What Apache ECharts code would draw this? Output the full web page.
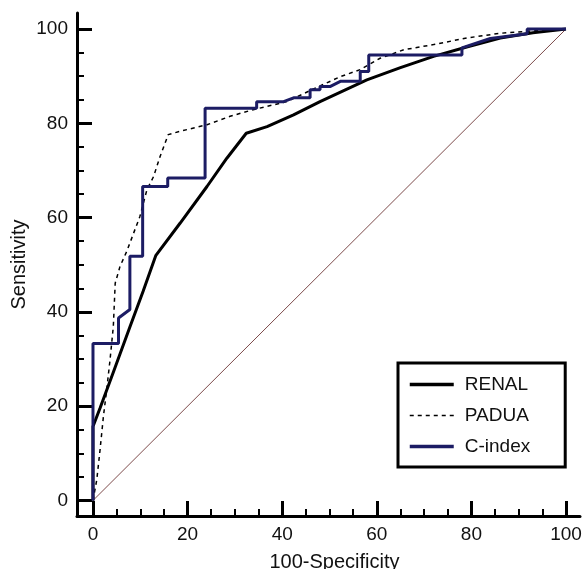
<!DOCTYPE html>
<html>
<head>
<meta charset="utf-8">
<script src="https://cdn.jsdelivr.net/npm/echarts@6/dist/echarts.min.js"></script>
<style>
html,body{margin:0;padding:0;background:#fff;}
#chart{width:584px;height:569px;}
</style>
</head>
<body>
<div id="chart"></div>
<script>
// ---- data ----
const seriesNames = ['RENAL', 'PADUA', 'C-index'];
const renal = [[0,0],[0,15.7],[1.5,19.6],[4.3,27.2],[7.8,36.8],[10.6,44.4],[13.3,52],[18.4,58.8],[24.1,66.6],[28.3,72.6],[32.4,77.9],[36.8,79.3],[42.4,81.8],[48,84.6],[57.9,89.2],[65,91.8],[72,94.2],[79,96.2],[86.1,98.1],[93,99.2],[100,100]];
const padua = [[0,0],[0.8,4.4],[1.5,10.8],[2.2,17.8],[2.9,23.5],[3.6,29.8],[4.3,36.9],[4.7,46.1],[5.7,49.6],[7.2,53],[9.9,60.2],[11.4,65.9],[12.8,68.7],[14.2,73],[15.9,77.6],[18.4,78.3],[24.1,79.7],[29,81.5],[33.9,82.9],[41,84.6],[46,87],[52.3,89.9],[56.5,91.4],[60.7,93.8],[65.7,95.6],[72,96.7],[79,98.1],[86.1,99.1],[93,99.6],[100,100]];
const cindex = [[0,0],[0,33.3],[5.4,33.3],[5.4,38.7],[7.8,40.5],[7.8,51.8],[10.5,51.8],[10.5,66.6],[15.8,66.6],[15.8,68.4],[23.7,68.4],[23.7,83.2],[34.6,83.2],[34.6,84.6],[40.3,84.6],[42.4,85.4],[45.9,85.4],[45.9,87.1],[48,87.1],[48,87.8],[50.1,87.8],[52.3,88.9],[56.5,88.9],[56.5,91],[58.3,91],[58.3,94.5],[78,94.5],[78,96],[84,98],[91.8,99],[91.8,100],[100,100]];
const reference = [[0,0],[100,100]];
const majorTicks = [0, 20, 40, 60, 80, 100];
const minorTicks = [5,10,15,25,30,35,45,50,55,65,70,75,85,90,95];

const FONT = 'Liberation Sans, Arial, sans-serif';
const NAVY = '#1c1c64';

function mainAxis(name, min, max, gap, extra) {
  return Object.assign({
    type: 'value', min: min, max: max,
    name: name, nameLocation: 'middle', nameGap: gap, nameMoveOverlap: false,
    nameTextStyle: {fontSize: 20, color: '#111', fontFamily: FONT},
    axisLine: {show: true, onZero: false, lineStyle: {color: '#000', width: 3}},
    axisTick: {show: true, inside: true, length: 15, lineStyle: {color: '#000', width: 3}, customValues: majorTicks},
    axisLabel: {show: true, fontSize: 19, color: '#111', fontFamily: FONT, margin: 9, customValues: majorTicks},
    splitLine: {show: false}
  }, extra || {});
}
function minorAxis(min, max, pos) {
  return {
    type: 'value', min: min, max: max, position: pos,
    axisLine: {show: false, onZero: false},
    axisTick: {show: true, inside: true, length: 7, lineStyle: {color: '#000', width: 2}, customValues: minorTicks},
    axisLabel: {show: false},
    splitLine: {show: false}
  };
}

const XMIN = -3.38, XMAX = 102.96, YMIN = -3.29, YMAX = 103.4;

const chart = echarts.init(document.getElementById('chart'), null, {renderer: 'canvas'});
chart.setOption({
  animation: false,
  backgroundColor: '#fff',
  grid: {left: 77, right: 4, top: 13, bottom: 53, containLabel: false, outerBoundsMode: 'none'},
  xAxis: [
    mainAxis('100-Specificity', XMIN, XMAX, 36, {position: 'bottom', nameTextStyle: {fontSize: 20, color: '#111', fontFamily: FONT, padding: [0, 0, 0, 12]}}),
    minorAxis(XMIN, XMAX, 'bottom')
  ],
  yAxis: [
    mainAxis('Sensitivity', YMIN, YMAX, 48, {position: 'left'}),
    minorAxis(YMIN, YMAX, 'left')
  ],
  legend: {
    data: [
      {name: seriesNames[0], lineStyle: {width: 3.5}},
      {name: seriesNames[1], lineStyle: {width: 1.5}},
      {name: seriesNames[2], lineStyle: {width: 3.5}}
    ],
    orient: 'vertical',
    left: 398, top: 363,
    padding: [12, 35, 11, 10],
    borderColor: '#000', borderWidth: 3,
    itemWidth: 44, itemHeight: 14, itemGap: 12,
    itemStyle: {opacity: 0},
    textStyle: {fontSize: 19, color: '#111', fontFamily: FONT, padding: [0, 0, 0, 6]}
  },
  series: [
    {name: 'ref', type: 'line', data: reference, symbol: 'none', silent: true,
     lineStyle: {color: '#7d4b4b', width: 1}, z: 1},
    {name: 'PADUA', type: 'line', data: padua, symbol: 'none',
     itemStyle: {color: '#000'},
     lineStyle: {color: '#000', width: 1.5, type: [4, 4]}, z: 2},
    {name: 'RENAL', type: 'line', data: renal, symbol: 'none',
     itemStyle: {color: '#000'},
     lineStyle: {color: '#000', width: 3}, z: 3},
    {name: 'C-index', type: 'line', data: cindex, symbol: 'none',
     itemStyle: {color: NAVY},
     lineStyle: {color: NAVY, width: 3}, z: 4}
  ]
});
</script>
</body>
</html>
